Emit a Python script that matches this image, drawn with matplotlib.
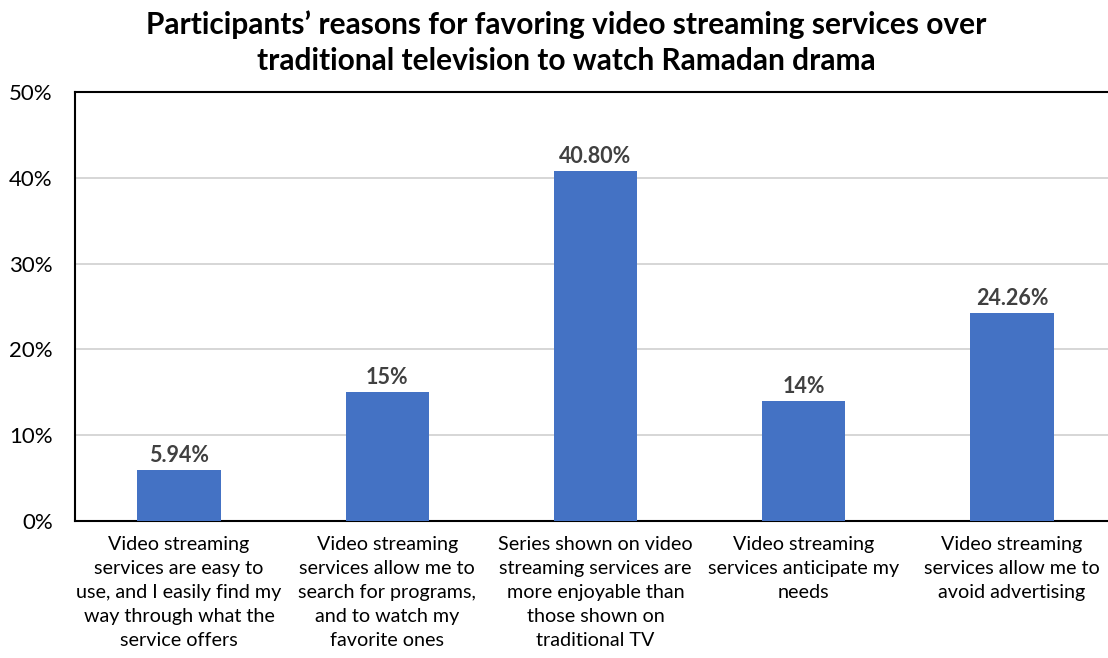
import numpy as np
import matplotlib.pyplot as plt

# dane
kategorie = [
    "Video streaming\nservices are easy to\nuse, and I easily find my\nway through what the\nservice offers",
    "Video streaming\nservices allow me to\nsearch for programs,\nand to watch my\nfavorite ones",
    "Series shown on video\nstreaming services are\nmore enjoyable than\nthose shown on\ntraditional TV",
    "Video streaming\nservices anticipate my\nneeds",
    "Video streaming\nservices allow me to\navoid advertising",
]
wartosci = [5.94, 15, 40.80, 14, 24.26]
etykiety = ["5.94%", "15%", "40.80%", "14%", "24.26%"]
yticki = [0, 10, 20, 30, 40, 50]

plt.rcParams['font.family'] = ['Lato', 'DejaVu Sans']

fig = plt.figure(figsize=(11.08, 6.58), dpi=100)
# prawa krawedz wykresu wychodzi poza obrazek (jak w oryginale)
ax = fig.add_axes([0.0677, 0.2082, 0.9395, 0.652])

x = np.arange(len(kategorie))
ax.bar(x, wartosci, width=0.40, color='#4472C4', zorder=3)

for xi, v, t in zip(x, wartosci, etykiety):
    ax.text(xi, v + 0.5, t, ha='center', va='bottom', fontsize=15.5,
            fontweight='bold', color='#404040')

ax.set_xlim(-0.5, 4.5)
ax.set_ylim(0, 50)
ax.set_yticks(yticki)
ax.set_yticklabels([f"{t}%" for t in yticki], fontsize=16)
ax.set_xticks(x)
ax.set_xticklabels(kategorie, fontsize=14.2, linespacing=1.5)
ax.tick_params(axis='both', length=0)
ax.tick_params(axis='y', pad=16)
ax.tick_params(axis='x', pad=11)
ax.grid(axis='y', color='#D0D0D0', linewidth=1.2, zorder=0)
for s in ax.spines.values():
    s.set_color('black')
    s.set_linewidth(1.5)

fig.text(0.511, 0.985, "Participants’ reasons for favoring video streaming services over\ntraditional television to watch Ramadan drama",
         ha='center', va='top', fontsize=21.5, fontweight='bold', linespacing=1.38)

plt.savefig('out.png', dpi=100)
